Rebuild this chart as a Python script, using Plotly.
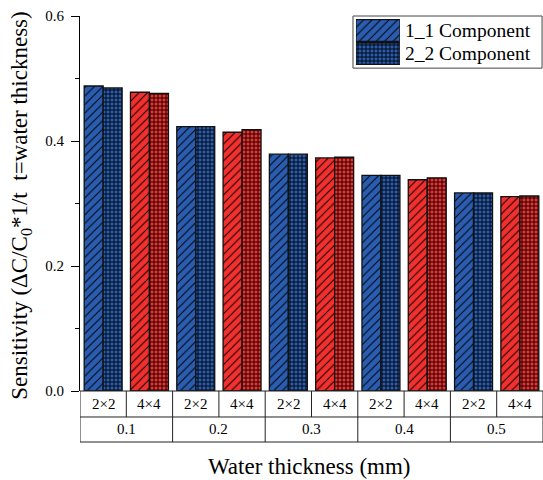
import plotly.graph_objects as go

# ---- data ----
thickness = ["0.1", "0.2", "0.3", "0.4", "0.5"]
mesh = ["2×2", "4×4"]
series_names = ["1_1 Component", "2_2 Component"]
comp_1_1 = [0.488, 0.478, 0.423, 0.414, 0.379, 0.373, 0.345, 0.338, 0.317, 0.311]
comp_2_2 = [0.485, 0.476, 0.423, 0.418, 0.379, 0.374, 0.345, 0.341, 0.317, 0.312]
y_ticks = [0.0, 0.2, 0.4, 0.6]

# ---- style ----
FONT = "'Liberation Serif', 'Times New Roman', serif"
BLUE = "#2A5CB0"
RED = "#F2302E"
mesh_colors = {"2×2": BLUE, "4×4": RED}

categories = [f"{t} {m}" for t in thickness for m in mesh]
cat_mesh = [m for t in thickness for m in mesh]

fig = go.Figure()

patterns = [dict(shape="/", size=6, solidity=0.16), dict(shape="+", size=4, solidity=0.4)]
for s_idx, (name, vals, pat) in enumerate(zip(series_names, [comp_1_1, comp_2_2], patterns)):
    for m in mesh:
        xs = [c for c, cm in zip(categories, cat_mesh) if cm == m]
        ys = [v for v, cm in zip(vals, cat_mesh) if cm == m]
        col = mesh_colors[m]
        fig.add_trace(go.Bar(
            x=xs, y=ys, name=name, showlegend=False, offsetgroup=str(s_idx),
            marker=dict(color=col,
                        line=dict(color="#111111", width=1.3),
                        pattern=dict(shape=pat["shape"], size=pat["size"], solidity=pat["solidity"],
                                     fgcolor="black", fgopacity=1, bgcolor=col, fillmode="replace")),
            xaxis="x", yaxis="y",
        ))

# custom legend drawn as an inset axis with patterned swatches
for name, pat in zip(series_names, patterns):
    fig.add_trace(go.Bar(
        x=[1], y=[name], orientation="h", showlegend=False, hoverinfo="skip",
        marker=dict(color=BLUE, line=dict(color="#111111", width=1.3),
                    pattern=dict(shape=pat["shape"], size=pat["size"], solidity=pat["solidity"],
                                 fgcolor="black", fgopacity=1, bgcolor=BLUE, fillmode="replace")),
        xaxis="x2", yaxis="y2", width=0.94,
    ))

# ---- table under the x axis ----
n = len(categories)
row1 = -0.0693
row2 = -0.136
shapes = []
line = dict(color="#222222", width=1)
for yy in [0, row1, row2]:
    shapes.append(dict(type="line", xref="x", yref="paper", x0=-0.5, x1=n - 0.5, y0=yy, y1=yy, line=line))
for i in range(n + 1):
    x = i - 0.5
    bottom = row2 if i % len(mesh) == 0 else row1
    shapes.append(dict(type="line", xref="x", yref="paper", x0=x, x1=x, y0=0, y1=bottom, line=line))
# legend box
shapes.append(dict(type="rect", xref="paper", yref="paper", x0=0.5896, x1=0.998, y0=1.0, y1=0.861,
                   line=dict(color="#444444", width=1), fillcolor="rgba(0,0,0,0)"))

annotations = []
for i, c in enumerate(categories):
    annotations.append(dict(x=c, y=row1 / 2, xref="x", yref="paper", text=cat_mesh[i],
                            showarrow=False, font=dict(family=FONT, size=15, color="black"),
                            xanchor="center", yanchor="middle"))
for k, t in enumerate(thickness):
    annotations.append(dict(x=k * len(mesh) + (len(mesh) - 1) / 2, y=(row1 + row2) / 2, xref="x", yref="paper",
                            text=t, showarrow=False, font=dict(family=FONT, size=15, color="black"),
                            xanchor="center", yanchor="middle"))
annotations.append(dict(x=0.496, y=-0.2, xref="paper", yref="paper", text="Water thickness (mm)",
                        showarrow=False, font=dict(family=FONT, size=23, color="black"),
                        xanchor="center", yanchor="middle"))
annotations.append(dict(x=-0.1274, y=0.494, xref="paper", yref="paper",
                        text="Sensitivity (ΔC/C<sub>0</sub>*1/t &nbsp;t=water thickness)",
                        textangle=-90, showarrow=False, font=dict(family=FONT, size=23, color="black"),
                        xanchor="center", yanchor="middle"))

fig.update_layout(
    width=543, height=480,
    margin=dict(l=80, r=0, t=16, b=89),
    paper_bgcolor="white", plot_bgcolor="white",
    barmode="group", bargap=0.18, bargroupgap=0,
    font=dict(family=FONT, color="black"),
    shapes=shapes, annotations=annotations,
    xaxis=dict(domain=[0, 1], type="category", categoryorder="array", categoryarray=categories,
               showticklabels=False, ticks="", showline=False, showgrid=False, zeroline=False,
               range=[-0.5, n - 0.5]),
    yaxis=dict(domain=[0, 1], range=[0, 0.6], tickvals=y_ticks, tickformat=".1f",
               ticks="outside", ticklen=8, tickwidth=1, tickcolor="black",
               showline=True, linecolor="black", linewidth=1.2,
               showgrid=False, zeroline=False,
               tickfont=dict(family=FONT, size=15, color="black"), ticklabelstandoff=4,
               minor=dict(tickvals=[0.1, 0.3, 0.5], ticks="outside", ticklen=4, tickcolor="black")),
    xaxis2=dict(domain=[0.596, 0.691], anchor="y2", range=[0, 1], visible=False, fixedrange=True),
    yaxis2=dict(domain=[0.869, 0.992], anchor="x2", side="right", type="category",
                categoryorder="array", categoryarray=series_names[::-1],
                showline=False, ticks="", showgrid=False, zeroline=False,
                tickfont=dict(family=FONT, size=19.5, color="black"), ticklabelstandoff=4),
)

fig.write_html("out.html")
